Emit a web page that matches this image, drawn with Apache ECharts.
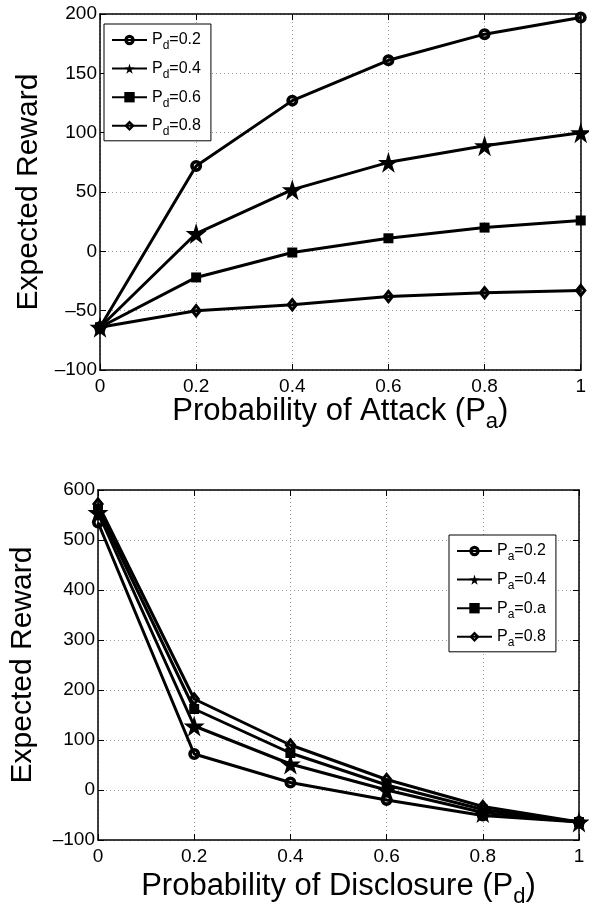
<!DOCTYPE html>
<html>
<head>
<meta charset="utf-8">
<script src="https://cdn.jsdelivr.net/npm/echarts@6/dist/echarts.min.js"></script>
<style>
  html, body { margin: 0; padding: 0; background: #fff; }
  #top { position: absolute; left: 0; top: 0; width: 589px; height: 450px; }
  #bottom { position: absolute; left: 0; top: 450px; width: 589px; height: 463px; }
</style>
</head>
<body>
<div id="top"></div>
<div id="bottom"></div>
<script>
// x positions (probability)
const xVals = [0, 0.2, 0.4, 0.6, 0.8, 1];

// top chart: reward vs P_a, one series per P_d
const topNames = ['0.2', '0.4', '0.6', '0.8'];
const pd02 = [-64, 72, 127, 161, 183, 197];
const pd04 = [-64, 15, 52, 75, 89, 100];
const pd06 = [-64, -22, -1, 11, 20, 26];
const pd08 = [-64, -50, -45, -38, -35, -33];

// bottom chart: reward vs P_d, one series per P_a
const bottomNames = ['0.2', '0.4', '0.a', '0.8'];
const pa02 = [535, 72, 15, -20, -51, -64];
const pa04 = [555, 128, 52, 0, -45, -64];
const pa06 = [563, 162, 74, 10, -39, -64];
const pa08 = [572, 182, 90, 21, -33, -64];

// marker shapes (rings are drawn as filled paths with a hole)
const RING = 'path://M50,0 A50,50 0 1,1 50,100 A50,50 0 1,1 50,0 Z M50,30 A20,20 0 1,0 50,70 A20,20 0 1,0 50,30 Z';
const STAR = 'path://M50,0 L61,35 L98,35 L68,57 L79,91 L50,70 L21,91 L32,57 L2,35 L39,35 Z';
const DIAMOND = 'path://M50,0 L100,50 L50,100 L0,50 Z M50,32 L32,50 L50,68 L68,50 Z';
const FONT = 'Liberation Sans';

const markers = [
    {symbol: RING, symbolSize: 12},
    {symbol: STAR, symbolSize: 21},
    {symbol: 'rect', symbolSize: 10},
    {symbol: DIAMOND, symbolSize: [12, 15]}
];

function makeSeries(names, values) {
    return names.map((n, i) => ({
        name: n,
        type: 'line',
        data: xVals.map((x, j) => [x, values[i][j]]),
        symbol: markers[i].symbol,
        symbolSize: markers[i].symbolSize,
        symbolKeepAspect: false,
        showAllSymbol: true,
        lineStyle: {color: '#000', width: 3},
        itemStyle: {color: '#000', borderWidth: 0},
        emphasis: {disabled: true},
        animation: false
    }));
}

const tickFmt = v => (v < 0 ? '\u2013' + Math.abs(v) : String(v));

function axes(yMin, yMax, yInt, xName, sub, yGap, xGap) {
    const nameRich = {
        m: {fontSize: 31, fontFamily: FONT, color: '#000'},
        s: {fontSize: 22, fontFamily: FONT, color: '#000', padding: [22, 0, 0, 0]}
    };
    const tick = {inside: true, length: 6, lineStyle: {color: '#000'}};
    const line = {onZero: false, lineStyle: {color: '#000', width: 1.5}};
    const grid = {show: true, lineStyle: {color: '#999', type: [1, 3], width: 1}};
    const xAxis = [{
        type: 'value', min: 0, max: 1, interval: 0.2,
        name: '{m|' + xName + ' (P}{s|' + sub + '}{m|)}',
        nameLocation: 'middle', nameGap: xGap, nameMoveOverlap: false,
        nameTextStyle: {rich: nameRich},
        axisLine: line,
        axisTick: tick,
        axisLabel: {color: '#000', fontSize: 19, fontFamily: FONT, margin: 7},
        splitLine: grid
    }, {
        type: 'value', min: 0, max: 1, interval: 0.2, position: 'top',
        axisLine: line, axisTick: tick,
        axisLabel: {show: false}, splitLine: {show: false}
    }];
    const yAxis = [{
        type: 'value', min: yMin, max: yMax, interval: yInt,
        name: 'Expected Reward', nameLocation: 'middle', nameGap: yGap, nameMoveOverlap: false,
        nameTextStyle: {fontSize: 30, fontFamily: FONT, color: '#000'},
        axisLine: Object.assign({show: true}, line),
        axisTick: Object.assign({show: true}, tick),
        axisLabel: {color: '#000', fontSize: 19, fontFamily: FONT, margin: 3, formatter: tickFmt},
        splitLine: grid
    }, {
        type: 'value', min: yMin, max: yMax, interval: yInt, position: 'right',
        axisLine: Object.assign({show: true}, line),
        axisTick: Object.assign({show: true}, tick),
        axisLabel: {show: false}, splitLine: {show: false}
    }];
    return {xAxis, yAxis};
}

function legend(letter, pos) {
    return Object.assign({
        orient: 'vertical',
        backgroundColor: '#fff',
        borderColor: '#000',
        borderWidth: 1,
        borderRadius: 0,
        padding: [4, 10, 3, 7],
        itemWidth: 35,
        itemHeight: 13,
        itemGap: 4.6,
        selectedMode: false,
        formatter: n => '{m|P}{s|' + letter + '}{m|=' + n + '}',
        textStyle: {
            rich: {
                m: {fontSize: 16, lineHeight: 18, fontFamily: FONT, color: '#000'},
                s: {fontSize: 12, lineHeight: 12, fontFamily: FONT, color: '#000', padding: [12, 0, 0, 0]}
            }
        }
    }, pos);
}

const topChart = echarts.init(document.getElementById('top'));
const ta = axes(-100, 200, 50, 'Probability of Attack', 'a', 56, 19);
topChart.setOption({
    animation: false,
    grid: {left: 100, right: 2, top: 14, height: 356, containLabel: false},
    xAxis: ta.xAxis,
    yAxis: ta.yAxis,
    legend: legend('d', {left: 104, top: 24}),
    series: makeSeries(topNames, [pd02, pd04, pd06, pd08])
});

const bottomChart = echarts.init(document.getElementById('bottom'));
const ba = axes(-100, 600, 100, 'Probability of Disclosure', 'd', 60, 24);
bottomChart.setOption({
    animation: false,
    grid: {left: 92.5, right: 10, top: 40, height: 355, containLabel: false},
    xAxis: ba.xAxis,
    yAxis: ba.yAxis,
    legend: legend('a', {left: 449, top: 85}),
    series: makeSeries(bottomNames, [pa02, pa04, pa06, pa08])
});
</script>
</body>
</html>
